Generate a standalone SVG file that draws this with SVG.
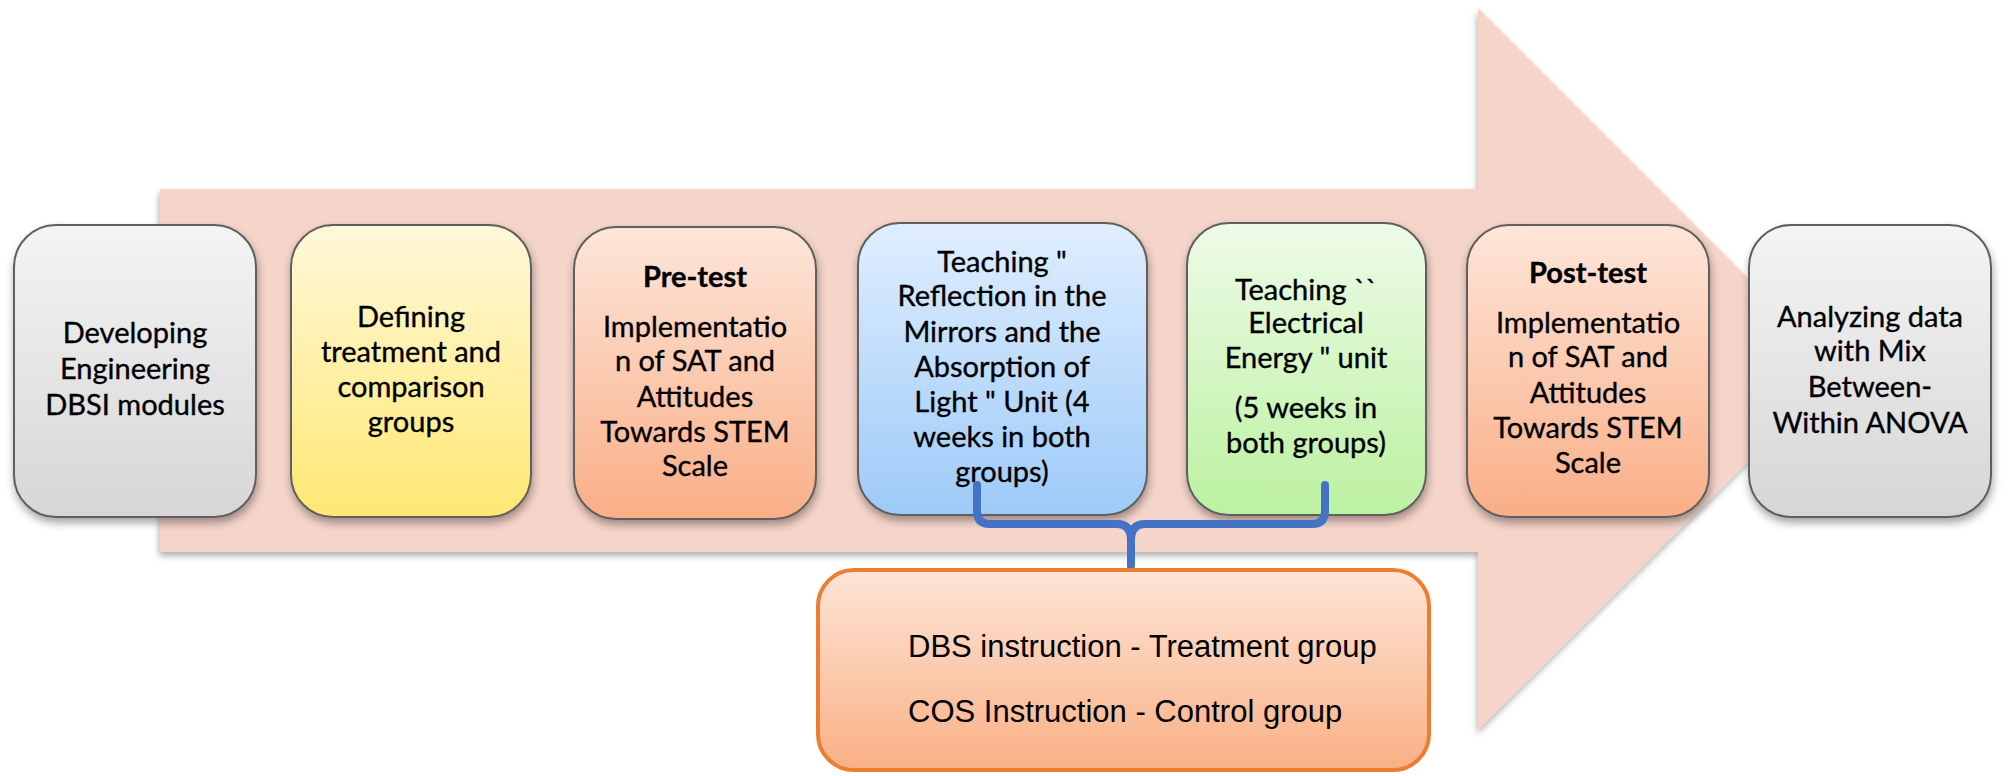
<svg xmlns="http://www.w3.org/2000/svg" width="2008" height="776" viewBox="0 0 2008 776">
<defs>
<linearGradient id="gGray" x1="0" y1="0" x2="0" y2="1"><stop offset="0" stop-color="#F4F4F4"/><stop offset="1" stop-color="#D6D6D6"/></linearGradient>
<linearGradient id="gYellow" x1="0" y1="0" x2="0" y2="1"><stop offset="0" stop-color="#FFF8DA"/><stop offset="1" stop-color="#FFE872"/></linearGradient>
<linearGradient id="gOrange" x1="0" y1="0" x2="0" y2="1"><stop offset="0" stop-color="#FDE6DA"/><stop offset="1" stop-color="#F9AE86"/></linearGradient>
<linearGradient id="gBlue" x1="0" y1="0" x2="0" y2="1"><stop offset="0" stop-color="#E0EEFF"/><stop offset="1" stop-color="#9DCAF7"/></linearGradient>
<linearGradient id="gGreen" x1="0" y1="0" x2="0" y2="1"><stop offset="0" stop-color="#EEFBE8"/><stop offset="1" stop-color="#BBF1A0"/></linearGradient>
<linearGradient id="gNote" x1="0" y1="0" x2="0" y2="1"><stop offset="0" stop-color="#FEE5D7"/><stop offset="1" stop-color="#F9B085"/></linearGradient>
<filter id="sh" x="-10%" y="-10%" width="125%" height="130%"><feDropShadow dx="1" dy="5" stdDeviation="4" flood-color="#000" flood-opacity="0.35"/></filter>
<filter id="shA" x="-5%" y="-5%" width="110%" height="115%"><feDropShadow dx="-1" dy="4" stdDeviation="3" flood-color="#000" flood-opacity="0.3"/></filter>
</defs>
<style>
.box{stroke:#5e5e5e;stroke-width:2;filter:url(#sh)}
.t{font-family:Lato,"Liberation Sans",sans-serif;font-size:29px;fill:#000;stroke:#000;stroke-width:0.35;text-anchor:middle}
.b{font-weight:bold}
.n{font-family:"Liberation Sans",Arial,sans-serif;font-size:31px;fill:#000}
.br{fill:none;stroke:#4472C4;stroke-width:8;stroke-linecap:round;stroke-linejoin:round}
</style>
<g id="arrow">
<path d="M160,189 H1478 V8 L1840,370 L1478,730 V552 H160 Z" fill="#F5D4C9" filter="url(#shA)"/>
</g>
<g id="node1">
<rect class="box" x="14" y="225" width="242" height="292" rx="42" fill="url(#gGray)"/>
<text class="t"><tspan x="135" y="343">Developing</tspan><tspan x="135" y="379">Engineering</tspan><tspan x="135" y="415">DBSI modules</tspan></text>
</g>
<g id="node2">
<rect class="box" x="291" y="225" width="240" height="292" rx="42" fill="url(#gYellow)"/>
<text class="t"><tspan x="411" y="327">Defining</tspan><tspan x="411" y="362">treatment and</tspan><tspan x="411" y="397">comparison</tspan><tspan x="411" y="432">groups</tspan></text>
</g>
<g id="node3">
<rect class="box" x="574" y="227" width="242" height="292" rx="42" fill="url(#gOrange)"/>
<text class="t"><tspan class="b" x="695" y="287">Pre-test</tspan><tspan x="695" y="337">Implementatio</tspan><tspan x="695" y="371">n of SAT and</tspan><tspan x="695" y="407">Attitudes</tspan><tspan x="695" y="442">Towards STEM</tspan><tspan x="695" y="476">Scale</tspan></text>
</g>
<g id="node4">
<rect class="box" x="858" y="223" width="289" height="292" rx="42" fill="url(#gBlue)"/>
<text class="t"><tspan x="1002" y="272">Teaching "</tspan><tspan x="1002" y="306">Reflection in the</tspan><tspan x="1002" y="342">Mirrors and the</tspan><tspan x="1002" y="377">Absorption of</tspan><tspan x="1002" y="412">Light " Unit (4</tspan><tspan x="1002" y="447">weeks in both</tspan><tspan x="1002" y="482">groups)</tspan></text>
</g>
<g id="node5">
<rect class="box" x="1187" y="223" width="239" height="292" rx="42" fill="url(#gGreen)"/>
<text class="t"><tspan x="1306" y="300">Teaching ``</tspan><tspan x="1306" y="333">Electrical</tspan><tspan x="1306" y="368">Energy " unit</tspan><tspan x="1306" y="418">(5 weeks in</tspan><tspan x="1306" y="453">both groups)</tspan></text>
</g>
<g id="node6">
<rect class="box" x="1467" y="225" width="242" height="292" rx="42" fill="url(#gOrange)"/>
<text class="t"><tspan class="b" x="1588" y="283">Post-test</tspan><tspan x="1588" y="333">Implementatio</tspan><tspan x="1588" y="367">n of SAT and</tspan><tspan x="1588" y="403">Attitudes</tspan><tspan x="1588" y="438">Towards STEM</tspan><tspan x="1588" y="473">Scale</tspan></text>
</g>
<g id="node7">
<rect class="box" x="1749" y="225" width="242" height="292" rx="42" fill="url(#gGray)"/>
<text class="t"><tspan x="1870" y="327">Analyzing data</tspan><tspan x="1870" y="361">with Mix</tspan><tspan x="1870" y="397">Between-</tspan><tspan x="1870" y="433">Within ANOVA</tspan></text>
</g>
<g id="connectors">
<path class="br" d="M977,485 V511 Q977,524 990,524 H1117 Q1131,524 1131,540 V566 M1131,540 Q1131,524 1145,524 H1312 Q1325,524 1325,511 V485"/>
</g>
<g id="note">
<rect x="818" y="570" width="611" height="200" rx="36" fill="url(#gNote)" stroke="#ED7D31" stroke-width="4"/>
<text class="n" x="908" y="657">DBS instruction - Treatment group</text>
<text class="n" x="908" y="722">COS Instruction - Control group</text>
</g>
</svg>
